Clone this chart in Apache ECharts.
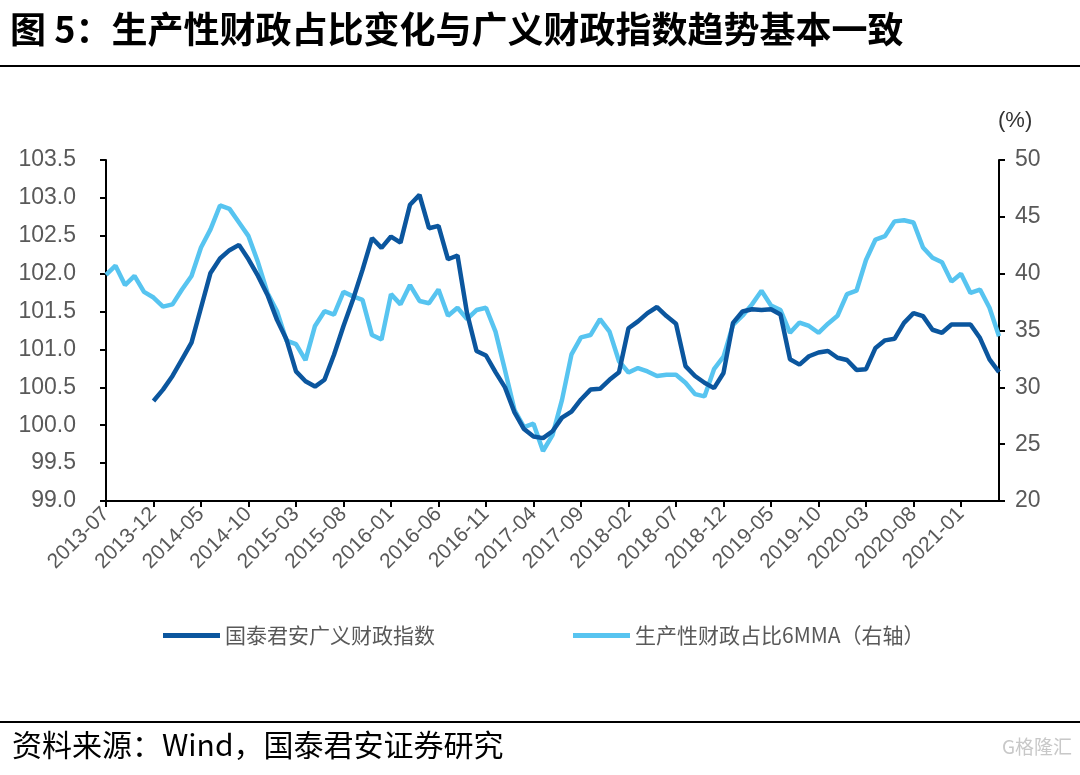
<!DOCTYPE html>
<html>
<head>
<meta charset="utf-8">
<script src="https://cdn.jsdelivr.net/npm/echarts@6/dist/echarts.min.js"></script>
<style>
html,body{margin:0;padding:0;background:#fff;}
#c{width:1080px;height:775px;}
</style>
</head>
<body>
<div id="c"></div>
<script>
var months = [
'2013-07','2013-08','2013-09','2013-10','2013-11','2013-12',
'2014-01','2014-02','2014-03','2014-04','2014-05','2014-06','2014-07','2014-08','2014-09','2014-10','2014-11','2014-12',
'2015-01','2015-02','2015-03','2015-04','2015-05','2015-06','2015-07','2015-08','2015-09','2015-10','2015-11','2015-12',
'2016-01','2016-02','2016-03','2016-04','2016-05','2016-06','2016-07','2016-08','2016-09','2016-10','2016-11','2016-12',
'2017-01','2017-02','2017-03','2017-04','2017-05','2017-06','2017-07','2017-08','2017-09','2017-10','2017-11','2017-12',
'2018-01','2018-02','2018-03','2018-04','2018-05','2018-06','2018-07','2018-08','2018-09','2018-10','2018-11','2018-12',
'2019-01','2019-02','2019-03','2019-04','2019-05','2019-06','2019-07','2019-08','2019-09','2019-10','2019-11','2019-12',
'2020-01','2020-02','2020-03','2020-04','2020-05','2020-06','2020-07','2020-08','2020-09','2020-10','2020-11','2020-12',
'2021-01','2021-02','2021-03','2021-04','2021-05'
];

// 国泰君安广义财政指数 (left axis)
var fiscalIndex = [
null,null,null,null,null,100.32,
100.47,100.65,100.87,101.09,101.55,102.01,102.20,102.31,102.38,102.19,101.97,101.72,
101.39,101.13,100.71,100.58,100.51,100.60,100.93,101.31,101.66,102.05,102.47,102.34,
102.49,102.41,102.91,103.04,102.60,102.63,102.19,102.24,101.48,100.98,100.92,100.70,
100.50,100.17,99.95,99.85,99.83,99.92,100.10,100.18,100.34,100.47,100.48,100.60,
100.70,101.28,101.37,101.48,101.56,101.44,101.34,100.78,100.65,100.56,100.49,100.69,
101.35,101.50,101.53,101.52,101.53,101.46,100.87,100.80,100.91,100.96,100.98,100.89,
100.86,100.73,100.74,101.02,101.12,101.14,101.35,101.48,101.44,101.26,101.22,101.33,
101.33,101.33,101.15,100.87,100.70
];

// 生产性财政占比6MMA (right axis, %)
var productiveShare = [
39.9,40.7,39.0,39.8,38.4,37.9,
37.1,37.3,38.6,39.8,42.3,43.9,46.0,45.7,44.5,43.3,41.0,38.3,
36.7,34.1,33.8,32.4,35.4,36.7,36.4,38.4,38.0,37.7,34.6,34.2,
38.2,37.3,39.0,37.6,37.4,38.6,36.3,37.0,36.0,36.8,37.0,34.9,
31.5,28.0,26.5,26.8,24.4,25.8,28.9,32.9,34.4,34.6,36.0,34.9,
32.3,31.3,31.7,31.4,31.0,31.1,31.1,30.4,29.4,29.2,31.6,32.7,
35.5,36.3,37.3,38.5,37.2,36.8,34.8,35.7,35.4,34.8,35.6,36.3,
38.2,38.5,41.2,43.0,43.3,44.6,44.7,44.5,42.3,41.4,41.0,39.3,
40.0,38.3,38.6,37.0,34.5
];

var seriesNames = ['国泰君安广义财政指数', '生产性财政占比6MMA（右轴）'];
var titleText = '图 5：生产性财政占比变化与广义财政指数趋势基本一致';
var sourceText = '资料来源：Wind，国泰君安证券研究';

var chart = echarts.init(document.getElementById('c'), null, {renderer: 'canvas'});
var labelColor = '#595959';
var numFont = 'Liberation Sans, Arial, sans-serif';
var cjkFont = '"Noto Sans CJK SC", sans-serif';

chart.setOption({
  animation: false,
  backgroundColor: '#ffffff',
  grid: {left: 106, top: 160, width: 893, height: 341, containLabel: false},
  legend: {
    left: 158, top: 620,
    icon: 'rect', itemWidth: 57, itemHeight: 5, itemGap: 138,
    textStyle: {color: labelColor, fontSize: 21, fontFamily: cjkFont},
    data: seriesNames
  },
  xAxis: {
    type: 'category', data: months, boundaryGap: false,
    axisLine: {lineStyle: {color: '#000', width: 2}},
    axisTick: {show: true, interval: 4, length: 6, lineStyle: {color: '#000', width: 2}},
    axisLabel: {interval: 4, rotate: 45, color: labelColor, fontSize: 21, fontFamily: numFont, margin: 10},
    splitLine: {show: false}
  },
  yAxis: [
    {
      type: 'value', min: 99, max: 103.5, interval: 0.5, position: 'left',
      axisLine: {show: true, lineStyle: {color: '#000', width: 2}},
      axisTick: {show: true, length: 6, lineStyle: {color: '#000', width: 2}},
      axisLabel: {color: labelColor, fontSize: 23, fontFamily: numFont, margin: 30,
        formatter: function (v) { return v.toFixed(1); }},
      splitLine: {show: false}
    },
    {
      type: 'value', min: 20, max: 50, interval: 5, position: 'right',
      axisLine: {show: true, lineStyle: {color: '#000', width: 2}},
      axisTick: {show: true, length: 6, lineStyle: {color: '#000', width: 2}},
      axisLabel: {color: labelColor, fontSize: 23, fontFamily: numFont, margin: 16},
      splitLine: {show: false}
    }
  ],
  series: [
    {
      name: seriesNames[0], type: 'line', yAxisIndex: 0, data: fiscalIndex,
      showSymbol: false, symbol: 'none', connectNulls: false,
      lineStyle: {color: '#0B569E', width: 4.5}, itemStyle: {color: '#0B569E'}, z: 3
    },
    {
      name: seriesNames[1], type: 'line', yAxisIndex: 1, data: productiveShare,
      showSymbol: false, symbol: 'none',
      lineStyle: {color: '#57C4F0', width: 4.5}, itemStyle: {color: '#57C4F0'}, z: 2
    }
  ],
  graphic: [
    {type: 'text', left: 10, top: 11, style: {text: titleText, fill: '#000', fontSize: 36, fontWeight: 'bold', fontFamily: cjkFont}},
    {type: 'line', shape: {x1: 0, y1: 66, x2: 1080, y2: 66}, style: {stroke: '#000', lineWidth: 2}},
    {type: 'text', left: 998, top: 110, style: {text: '(%)', fill: '#333', fontSize: 22, fontFamily: numFont}},
    {type: 'line', shape: {x1: 0, y1: 722, x2: 1080, y2: 722}, style: {stroke: '#000', lineWidth: 2}},
    {type: 'text', left: 12, top: 730, style: {text: sourceText, fill: '#000', fontSize: 30, fontFamily: cjkFont}},
    {type: 'text', left: 1002, top: 737, style: {text: 'G格隆汇', fill: '#c8c8c8', fontSize: 19, fontFamily: cjkFont}}
  ]
});
</script>
</body>
</html>
